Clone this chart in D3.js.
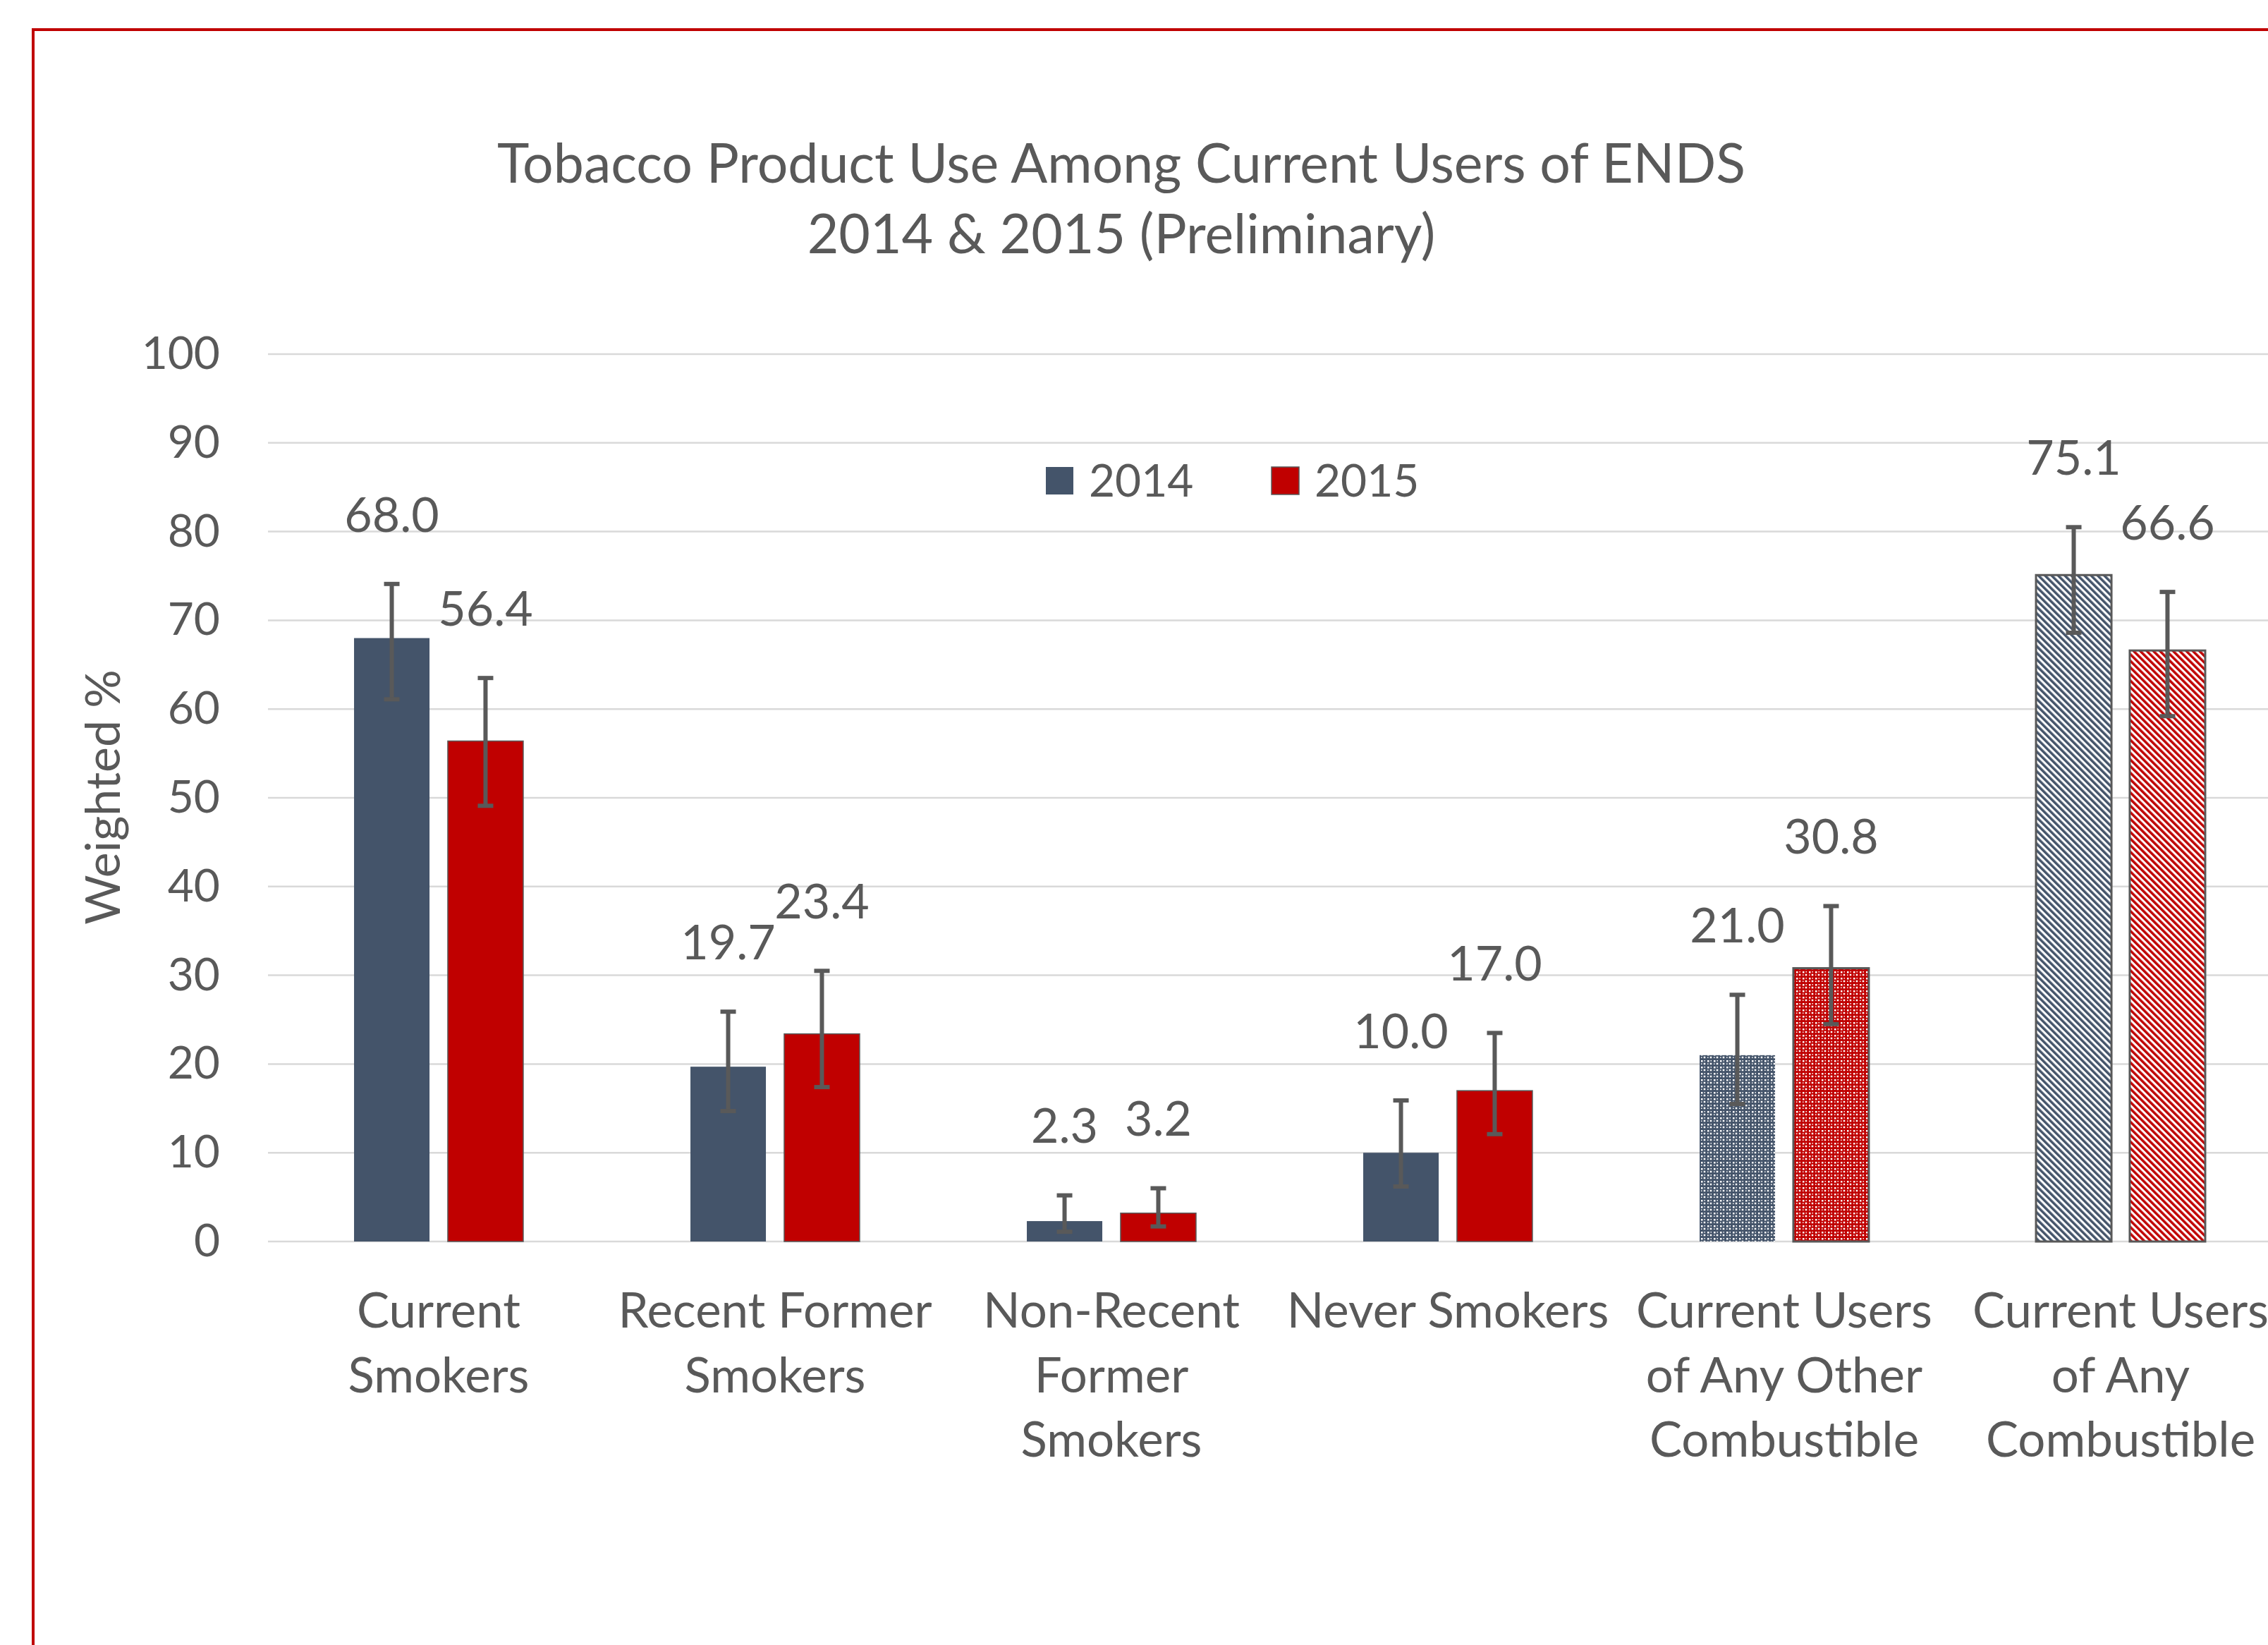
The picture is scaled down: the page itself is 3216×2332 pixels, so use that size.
<!DOCTYPE html>
<html>
<head>
<meta charset="utf-8">
<script src="https://d3js.org/d3.v7.min.js"></script>
<style>
  body { margin: 0; background: #fff; }
  #ends-chart { font-family: Lato, "Open Sans", sans-serif; }
  .ends-txt { fill: #595959; }
</style>
</head>
<body>
<div id="ends-chart"></div>
<script>
    // chart values
    var categories = ["Current Smokers", "Recent Former Smokers", "Non-Recent Former Smokers",
        "Never Smokers", "Current Users of Any Other Combustible", "Current Users of Any Combustible"];
    var categoryLines = [
        ["Current", "Smokers"],
        ["Recent Former", "Smokers"],
        ["Non-Recent", "Former", "Smokers"],
        ["Never Smokers"],
        ["Current Users", "of Any Other", "Combustible"],
        ["Current Users", "of Any", "Combustible"]
    ];
    var series = ["2014", "2015"];
    var values2014 = [68.0, 19.7, 2.3, 10.0, 21.0, 75.1];
    var values2015 = [56.4, 23.4, 3.2, 17.0, 30.8, 66.6];
    var lower2014 = [61.1, 14.7, 1.1, 6.2, 15.5, 68.6];
    var upper2014 = [74.1, 25.9, 5.2, 15.9, 27.8, 80.5];
    var lower2015 = [49.1, 17.4, 1.7, 12.1, 24.5, 59.2];
    var upper2015 = [63.5, 30.5, 6.0, 23.5, 37.8, 73.2];
    var yTicks = [0, 10, 20, 30, 40, 50, 60, 70, 80, 90, 100];

    var W = 3216, H = 2332;
    var plot = { left: 383.5, right: 3245.5, top: 502, bottom: 1760 };
    var textColor = "#595959";
    var colors = { "2014": "#44546A", "2015": "#C00000" };

    var svg = d3.select("#ends-chart").append("svg")
        .attr("width", W)
        .attr("height", H);

    // outer frame (runs off the right and bottom edge)
    svg.append("rect")
        .attr("x", 47).attr("y", 42)
        .attr("width", W + 100).attr("height", H + 100)
        .attr("fill", "none")
        .attr("stroke", "#C00000")
        .attr("stroke-width", 4);

    // fill patterns for the combustible groups
    var defs = svg.append("defs");
    series.forEach(function(s) {
        var diag = defs.append("pattern")
            .attr("id", "diag-" + s)
            .attr("patternUnits", "userSpaceOnUse")
            .attr("width", 6.6).attr("height", 6.6)
            .attr("patternTransform", "rotate(-45)");
        diag.append("rect").attr("width", 6.6).attr("height", 6.6).attr("fill", "#fff");
        diag.append("rect").attr("width", 3.5).attr("height", 6.6).attr("fill", colors[s]);

        var dots = defs.append("pattern")
            .attr("id", "dots-" + s)
            .attr("patternUnits", "userSpaceOnUse")
            .attr("width", 9).attr("height", 9);
        dots.append("rect").attr("width", 9).attr("height", 9).attr("fill", colors[s]);
        dots.append("rect").attr("x", 0).attr("y", 0).attr("width", 2.5).attr("height", 2.5).attr("fill", "#fff");
        dots.append("rect").attr("x", 4.5).attr("y", 0).attr("width", 1.5).attr("height", 1.5).attr("fill", "#fff");
        dots.append("rect").attr("x", 0).attr("y", 4.5).attr("width", 1.5).attr("height", 1.5).attr("fill", "#fff");
        dots.append("rect").attr("x", 3.75).attr("y", 3.75).attr("width", 2.5).attr("height", 2.5).attr("fill", "#fff");
    });

    var x0 = d3.scaleBand()
        .domain(categories)
        .range([plot.left, plot.right])
        .paddingInner(0.497)
        .paddingOuter(0.2485);

    var x1 = d3.scaleBand()
        .domain(series)
        .range([0, x0.bandwidth()])
        .paddingInner(0.195);

    var y = d3.scaleLinear()
        .domain([0, 100])
        .range([plot.bottom, plot.top]);

    // gridlines
    svg.append("g").selectAll("line")
        .data(yTicks)
        .enter().append("line")
        .attr("x1", 380).attr("x2", W)
        .attr("y1", function(d) { return y(d); })
        .attr("y2", function(d) { return y(d); })
        .attr("stroke", "#d9d9d9")
        .attr("stroke-width", 2.5);

    // y axis (labels only)
    var yAxis = svg.append("g")
        .attr("transform", "translate(" + 322 + ",0)")
        .call(d3.axisLeft(y).tickValues(yTicks).tickSize(0).tickPadding(10));
    yAxis.select(".domain").remove();
    yAxis.selectAll("text")
        .attr("class", "ends-txt")
        .attr("fill", textColor)
        .style("font-family", "Lato, sans-serif")
        .style("font-size", "64px");

    svg.append("text")
        .attr("class", "ends-txt")
        .attr("transform", "translate(146,1130) rotate(-90)")
        .attr("text-anchor", "middle")
        .attr("dy", "0.35em")
        .style("font-size", "68px")
        .text("Weighted %");

    // title
    var title = svg.append("text")
        .attr("class", "ends-txt")
        .attr("text-anchor", "middle")
        .style("font-size", "77px");
    title.append("tspan").attr("x", 1590).attr("y", 232).attr("dy", "0.35em")
        .text("Tobacco Product Use Among Current Users of ENDS");
    title.append("tspan").attr("x", 1590).attr("y", 332).attr("dy", "0.35em")
        .text("2014 & 2015 (Preliminary)");

    // rows: one per bar
    var rows = [];
    categories.forEach(function(c, i) {
        rows.push({ cat: c, i: i, s: "2014", v: values2014[i], lo: lower2014[i], hi: upper2014[i] });
        rows.push({ cat: c, i: i, s: "2015", v: values2015[i], lo: lower2015[i], hi: upper2015[i] });
    });

    var barFill = function(d) {
        if (d.i === 4) return "url(#dots-" + d.s + ")";
        if (d.i === 5) return "url(#diag-" + d.s + ")";
        return colors[d.s];
    };
    var barStroke = function(d) {
        if (d.i === 5) return 3;
        if (d.i === 4) return d.s === "2015" ? 3 : 0;
        return d.s === "2015" ? 1.5 : 0;
    };
    var cx = function(d) { return x0(d.cat) + x1(d.s) + x1.bandwidth() / 2; };

    svg.append("g").selectAll("rect")
        .data(rows)
        .enter().append("rect")
        .attr("x", function(d) { return x0(d.cat) + x1(d.s); })
        .attr("y", function(d) { return y(d.v); })
        .attr("width", x1.bandwidth())
        .attr("height", function(d) { return y(0) - y(d.v); })
        .attr("fill", barFill)
        .attr("stroke", "#595959")
        .attr("stroke-width", barStroke);

    // error bars
    var err = svg.append("g")
        .attr("stroke", "#595959")
        .attr("stroke-width", 6);
    err.selectAll(".stem")
        .data(rows)
        .enter().append("line")
        .attr("x1", cx).attr("x2", cx)
        .attr("y1", function(d) { return y(d.lo); })
        .attr("y2", function(d) { return y(d.hi); });
    ["lo", "hi"].forEach(function(k) {
        err.selectAll(".cap-" + k)
            .data(rows)
            .enter().append("line")
            .attr("x1", function(d) { return cx(d) - 11; })
            .attr("x2", function(d) { return cx(d) + 11; })
            .attr("y1", function(d) { return y(d[k]); })
            .attr("y2", function(d) { return y(d[k]); });
    });

    // value labels
    svg.append("g").selectAll("text")
        .data(rows)
        .enter().append("text")
        .attr("class", "ends-txt")
        .attr("x", cx)
        .attr("y", function(d) { return y(d.hi) - 98; })
        .attr("dy", "0.35em")
        .attr("text-anchor", "middle")
        .style("font-size", "68px")
        .text(function(d) { return d.v.toFixed(1); });

    // category labels
    var cat = svg.append("g").selectAll("text")
        .data(categories)
        .enter().append("text")
        .attr("class", "ends-txt")
        .attr("text-anchor", "middle")
        .style("font-size", "69px");
    cat.selectAll("tspan")
        .data(function(d, i) { return categoryLines[i].map(function(t) { return { t: t, c: d }; }); })
        .enter().append("tspan")
        .attr("x", function(d) { return x0(d.c) + x0.bandwidth() / 2; })
        .attr("y", function(d, j) { return 1858 + j * 91.5; })
        .attr("dy", "0.35em")
        .text(function(d) { return d.t; });

    // legend
    var leg = svg.append("g").selectAll("g")
        .data(series)
        .enter().append("g")
        .attr("transform", function(d, i) { return "translate(" + (1483 + i * 320) + ",662)"; });
    leg.append("rect")
        .attr("width", 39).attr("height", 39)
        .attr("fill", function(d) { return colors[d]; })
        .attr("stroke", function(d) { return d === "2015" ? "#595959" : "none"; })
        .attr("stroke-width", 1.5);
    leg.append("text")
        .attr("class", "ends-txt")
        .attr("x", 61).attr("y", 19.5)
        .attr("dy", "0.35em")
        .style("font-size", "64px")
        .text(function(d) { return d; });
</script>
</body>
</html>
